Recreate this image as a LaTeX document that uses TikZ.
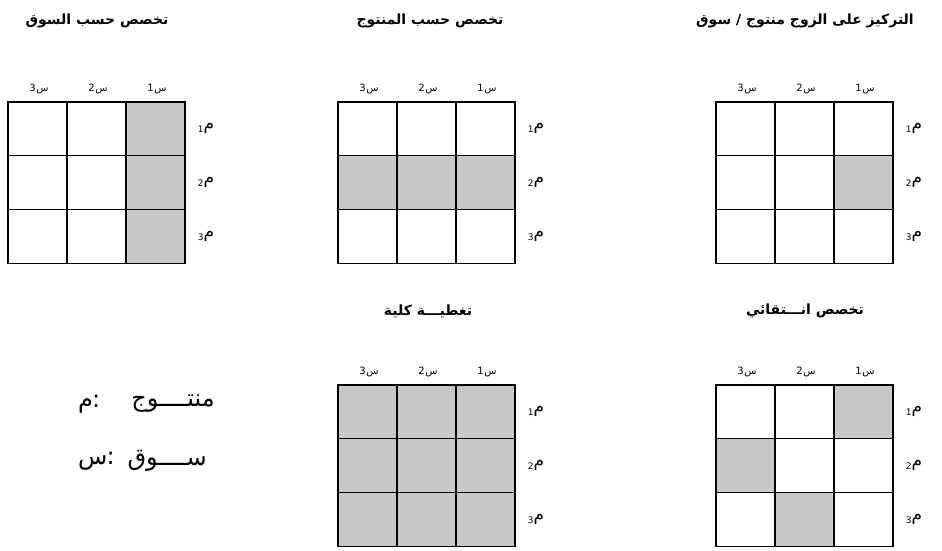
\documentclass[tikz,border=0pt]{standalone}
\usepackage{fontspec}
\newfontfamily\arabicfont[Script=Arabic]{DejaVu Sans}
\TeXXeTstate=1
\definecolor{shadegray}{RGB}{200,200,200}
\tikzset{
  cell/.style={draw, line width=1.2pt, minimum width=59pt, minimum height=53.7pt, inner sep=0pt, anchor=center},
  shadefill/.style={fill=shadegray},
  titlelabel/.style={font=\arabicfont\bfseries\fontsize{14}{16}\selectfont, inner sep=0pt},
  collabel/.style={font=\arabicfont\fontsize{10}{11}\selectfont, inner sep=0pt},
  rowlabel/.style={font=\arabicfont\fontsize{17}{18}\selectfont, inner sep=0pt},
  legendlabel/.style={font=\arabicfont\fontsize{24}{26}\selectfont, inner sep=0pt},
}
% #1 name, #2 x0, #3 y0, #4 shaded cells row/col (col 1 = rightmost)
\newcommand\mkgrid[4]{%
  \foreach \r/\c in {#4}{%
    \fill[shadefill] ({#2+(3-\c)*59},{#3+(\r-1)*53.7}) rectangle ++(59,53.7);
  }
  \foreach \r in {1,2,3}{%
    \foreach \c in {1,2,3}{%
      \node[cell] (#1-\r-\c) at ({#2+(3-\c)*59+29.5},{#3+(\r-1)*53.7+26.85}) {};
    }
    \node[rowlabel] (#1-m\r) at ({#2+177+21},{#3+(\r-1)*53.7+26.85}) {\hbox{\raisebox{-3pt}{\fontsize{9}{10}\selectfont\r}}\kern0.2pt\hbox{م}};
  }
  \foreach \c in {1,2,3}{%
    \node[collabel] (#1-s\c) at ({#2+(3-\c)*59+31},{#3-13}) {\hbox{\c}\kern0.6pt\hbox{س}};
  }
}
\begin{document}
\begin{tikzpicture}[x=1pt,y=-1pt]
\useasboundingbox (0,0) rectangle (942,550);
\fill[white] (0,0) rectangle (942,550);

% titles
\node[titlelabel] (t1) at (805,21) {\beginR التركيز على الزوج منتوج / سوق\endR};
\node[titlelabel] (t2) at (430,21) {\beginR تخصص حسب المنتوج\endR};
\node[titlelabel] (t3) at (97,21) {\beginR تخصص حسب السوق\endR};
\node[titlelabel] (t4) at (805,311) {\beginR تخصص انـــتقائي\endR};
\node[titlelabel] (t5) at (428,311) {\beginR تغطيـــة كلية\endR};

% grids
\mkgrid{ga}{8}{102}{1/1,2/1,3/1}
\mkgrid{gb}{338}{102}{2/1,2/2,2/3}
\mkgrid{gc}{716}{102}{2/1}
\mkgrid{gd}{716}{385}{1/1,2/3,3/2}
\mkgrid{ge}{338}{385}{1/1,1/2,1/3,2/1,2/2,2/3,3/1,3/2,3/3}

% legend
\node[legendlabel, anchor=west] (l1a) at (78,404) {\hbox{م}\kern-1pt\hbox{:}};
\node[legendlabel, anchor=east] (l1b) at (215,404) {منتــــوج};
\node[legendlabel, anchor=west] (l2a) at (78,461) {\hbox{س}\kern-1pt\hbox{:}};
\node[legendlabel, anchor=east] (l2b) at (207,461) {ســــوق};
\end{tikzpicture}
\end{document}
